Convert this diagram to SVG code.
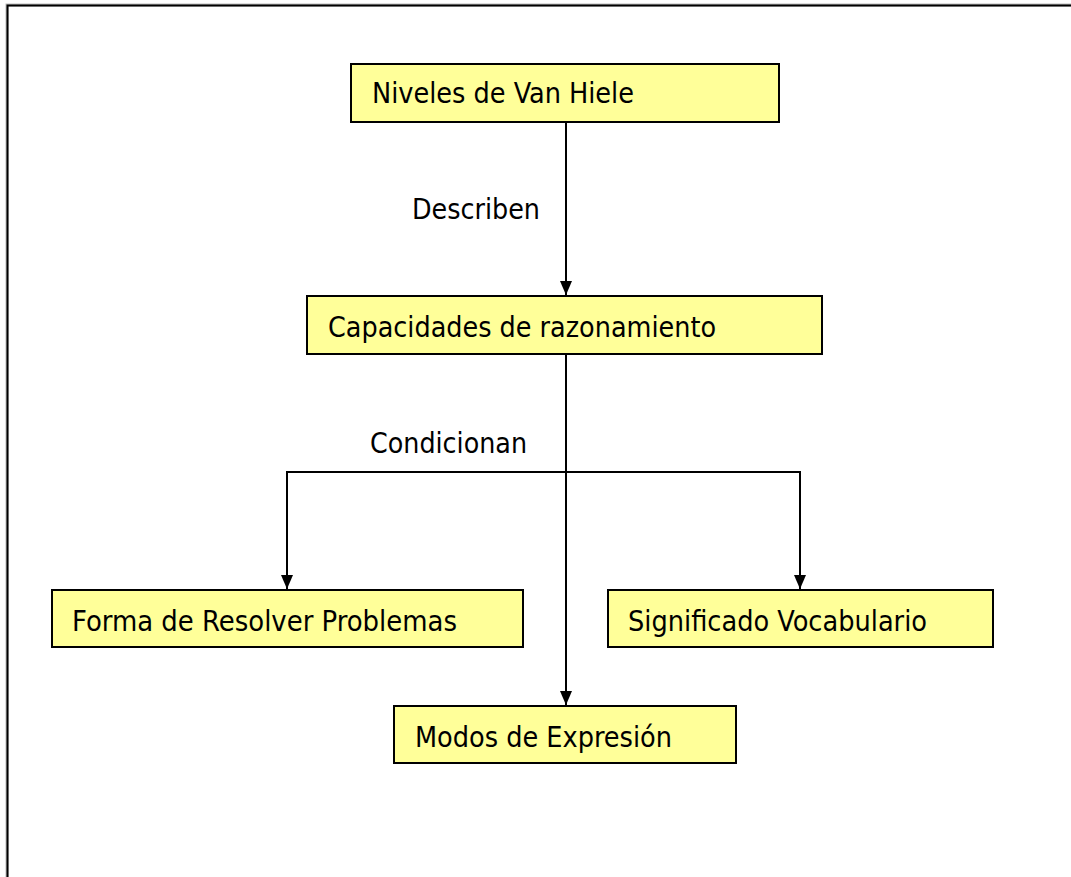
<svg xmlns="http://www.w3.org/2000/svg" width="1071" height="877" viewBox="0 0 1071 877">
<style>
.box{fill:#FFFF99;stroke:#000;stroke-width:2}
.t{font-family:"DejaVu Sans Condensed","DejaVu Sans",Verdana,sans-serif;font-stretch:condensed;font-size:27.5px;fill:#000}
.c{fill:none;stroke:#000;stroke-width:2}
</style>
<defs>
<marker id="ah" viewBox="0 0 14 12" refX="14" refY="6" markerWidth="14" markerHeight="12" markerUnits="userSpaceOnUse" orient="auto">
<path d="M0,0 L14,6 L0,12 Z" fill="#000"/>
</marker>
</defs>
<rect x="7" y="5" width="1100" height="900" fill="none" stroke="#bbb" stroke-width="3"/>
<rect x="7.5" y="5.5" width="1100" height="900" fill="none" stroke="#000" stroke-width="2"/>
<g id="connectors">
<line class="c" x1="566" y1="122" x2="566" y2="295" marker-end="url(#ah)"/>
<line class="c" x1="566" y1="354" x2="566" y2="705" marker-end="url(#ah)"/>
<polyline class="c" points="287,472 800,472 800,589" marker-end="url(#ah)"/>
<line class="c" x1="287" y1="471" x2="287" y2="589" marker-end="url(#ah)"/>
<text class="t" x="412" y="219" textLength="128" lengthAdjust="spacingAndGlyphs">Describen</text>
<text class="t" x="370" y="453" textLength="157" lengthAdjust="spacingAndGlyphs">Condicionan</text>
</g>
<g id="niveles">
<rect class="box" x="351" y="64" width="428" height="58"/>
<text class="t" x="372" y="103" textLength="262" lengthAdjust="spacingAndGlyphs">Niveles de Van Hiele</text>
</g>
<g id="capacidades">
<rect class="box" x="307" y="296" width="515" height="58"/>
<text class="t" x="328" y="337" textLength="388" lengthAdjust="spacingAndGlyphs">Capacidades de razonamiento</text>
</g>
<g id="forma">
<rect class="box" x="52" y="590" width="471" height="57"/>
<text class="t" x="72" y="631" textLength="385" lengthAdjust="spacingAndGlyphs">Forma de Resolver Problemas</text>
</g>
<g id="significado">
<rect class="box" x="608" y="590" width="385" height="57"/>
<text class="t" x="628" y="631" textLength="299" lengthAdjust="spacingAndGlyphs">Significado Vocabulario</text>
</g>
<g id="modos">
<rect class="box" x="394" y="706" width="342" height="57"/>
<text class="t" x="415" y="747" textLength="257" lengthAdjust="spacingAndGlyphs">Modos de Expresión</text>
</g>
</svg>
